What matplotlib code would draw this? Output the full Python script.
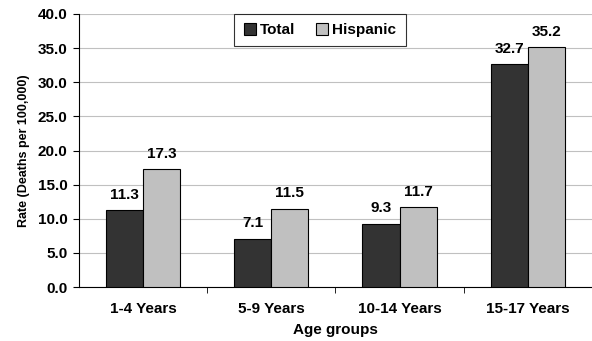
import numpy as np
import matplotlib.pyplot as plt

plt.rcParams['font.family'] = ['Liberation Sans', 'DejaVu Sans']
plt.rcParams['font.weight'] = 'bold'

groups = ['1-4 Years', '5-9 Years', '10-14 Years', '15-17 Years']
total = [11.3, 7.1, 9.3, 32.7]
hispanic = [17.3, 11.5, 11.7, 35.2]

fig = plt.figure(figsize=(5.92, 3.41), dpi=100)
ax = fig.add_axes([0.133, 0.158, 0.867, 0.801])

x = np.arange(len(groups))
w = 0.29
b1 = ax.bar(x - w/2, total, w, color='#333333', edgecolor='black', linewidth=0.8, label='Total', zorder=3)
b2 = ax.bar(x + w/2, hispanic, w, color='#c0c0c0', edgecolor='black', linewidth=0.8, label='Hispanic', zorder=3)

for bars, vals in ((b1, total), (b2, hispanic)):
    for r, v in zip(bars, vals):
        ax.text(r.get_x() + r.get_width()/2, v + 1.2, f'{v:.1f}', ha='center', va='bottom',
                fontsize=11, fontweight='bold')

ax.set_xlim(-0.5, 3.5)
ax.set_ylim(0, 40)
ax.set_yticks(np.arange(0, 41, 5))
ax.set_yticklabels([f'{t:.1f}' for t in np.arange(0, 41, 5)], fontsize=11, fontweight='bold')
ax.set_xticks(x)
ax.set_xticklabels(groups, fontsize=11, fontweight='bold')
ax.set_xticks(np.arange(0.5, 3, 1), minor=True)
ax.tick_params(axis='x', which='major', length=0, pad=11)
ax.tick_params(axis='x', which='minor', length=4, direction='out')
ax.tick_params(axis='y', length=4, direction='out', pad=4)
ax.grid(axis='y', color='#c0c0c0', linewidth=0.8, zorder=0)

for s in ('top', 'right'):
    ax.spines[s].set_visible(False)

ax.set_xlabel('Age groups', fontsize=11, fontweight='bold', labelpad=5)
ax.set_ylabel('Rate (Deaths per 100,000)', fontsize=9, fontweight='bold', labelpad=6)

leg = ax.legend(loc='upper center', bbox_to_anchor=(0.47, 1.0), ncol=2, fontsize=11,
                frameon=True, fancybox=False, edgecolor='black', handlelength=0.8,
                handleheight=0.8, columnspacing=1.3, borderpad=0.6, handletextpad=0.3,
                borderaxespad=0)
leg.get_frame().set_linewidth(0.8)

fig.savefig('out.png', dpi=100)
